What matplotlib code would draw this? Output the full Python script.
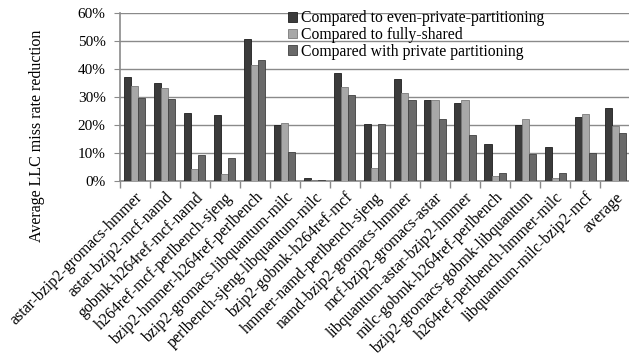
import matplotlib
matplotlib.use("Agg")
import matplotlib.pyplot as plt
import numpy as np
from matplotlib.ticker import FuncFormatter, FixedLocator

categories = [
    "astar-bzip2-gromacs-hmmer", "astar-bzip2-mcf-namd", "gobmk-h264ref-mcf-namd",
    "h264ref-mcf-perlbench-sjeng", "bzip2-hmmer-h264ref-perlbench",
    "bzip2-gromacs-libquantum-milc", "perlbench-sjeng-libquantum-milc",
    "bzip2-gobmk-h264ref-mcf", "hmmer-namd-perlbench-sjeng", "namd-bzip2-gromacs-hmmer",
    "mcf-bzip2-gromacs-astar", "libquantum-astar-bzip2-hmmer",
    "milc-gobmk-h264ref-perlbench", "bzip2-gromacs-gobmk-libquantum",
    "h264ref-perlbench-hmmer-milc", "libquantum-milc-bzip2-mcf", "average",
]
series_names = [
    "Compared to even-private-partitioning",
    "Compared to fully-shared",
    "Compared with private partitioning",
]
even_private = [37.0, 34.9, 24.2, 23.6, 50.7, 20.0, 1.0, 38.5, 20.4, 36.3, 28.9, 27.7, 13.1, 20.0, 12.3, 22.7, 26.0]
fully_shared = [33.9, 33.3, 4.2, 2.5, 41.4, 20.6, 0.4, 33.5, 4.5, 31.3, 28.9, 28.9, 1.8, 22.3, 1.0, 23.9, 19.6]
private_part = [29.5, 29.2, 9.3, 8.1, 43.2, 10.5, 0.3, 30.7, 20.4, 28.9, 22.1, 16.4, 2.7, 9.6, 2.7, 9.9, 17.3]

colors = ["#3b3b3b", "#a8a8a8", "#696969"]
edges = ["#1e1e1e", "#7a7a7a", "#404040"]

plt.rcParams["font.family"] = ["Liberation Serif", "DejaVu Serif"]

fig = plt.figure(figsize=(6.29, 3.64), dpi=100)
ax = fig.add_axes([0.190, 0.503, 0.812, 0.461])

x = np.arange(len(categories))
w = 0.235
for i, (vals, c, e, name) in enumerate(zip([even_private, fully_shared, private_part], colors, edges, series_names)):
    ax.bar(x + (i - 1) * w, vals, width=w, color=c, edgecolor=e, linewidth=0.6, label=name, zorder=3)

ax.set_ylim(0, 60)
ax.set_xlim(-0.5, len(categories) - 0.5)
ax.yaxis.set_major_locator(FixedLocator(np.arange(0, 61, 10)))
ax.yaxis.set_major_formatter(FuncFormatter(lambda v, p: f"{int(v)}%"))
ax.grid(axis="y", color="#8a8a8a", linewidth=1.0, zorder=0)
ax.set_axisbelow(True)

ax.set_xticks(x)
ax.set_xticklabels(categories, rotation=45, ha="right", rotation_mode="anchor", fontsize=11.4)
ax.tick_params(axis="x", which="major", length=0, pad=6)
ax.set_xticks(np.arange(-0.5, len(categories), 1.0), minor=True)
ax.tick_params(axis="x", which="minor", length=5, color="#8a8a8a", width=1)
ax.tick_params(axis="y", length=4, color="#8a8a8a", labelsize=11, pad=6)

for s in ["top", "right"]:
    ax.spines[s].set_visible(False)
for s in ["left", "bottom"]:
    ax.spines[s].set_color("#8a8a8a")
    ax.spines[s].set_linewidth(1.2)

ax.set_ylabel("Average LLC miss rate reduction", fontsize=11.5)
ax.yaxis.set_label_coords(-0.145, 0.27)

leg = ax.legend(loc="upper left", bbox_to_anchor=(0.329, 1.017), frameon=False, fontsize=11.3,
                handlelength=0.6, handleheight=0.6, handletextpad=0.25, labelspacing=0.05,
                borderaxespad=0, borderpad=0)

fig.savefig("out.png", dpi=100)
